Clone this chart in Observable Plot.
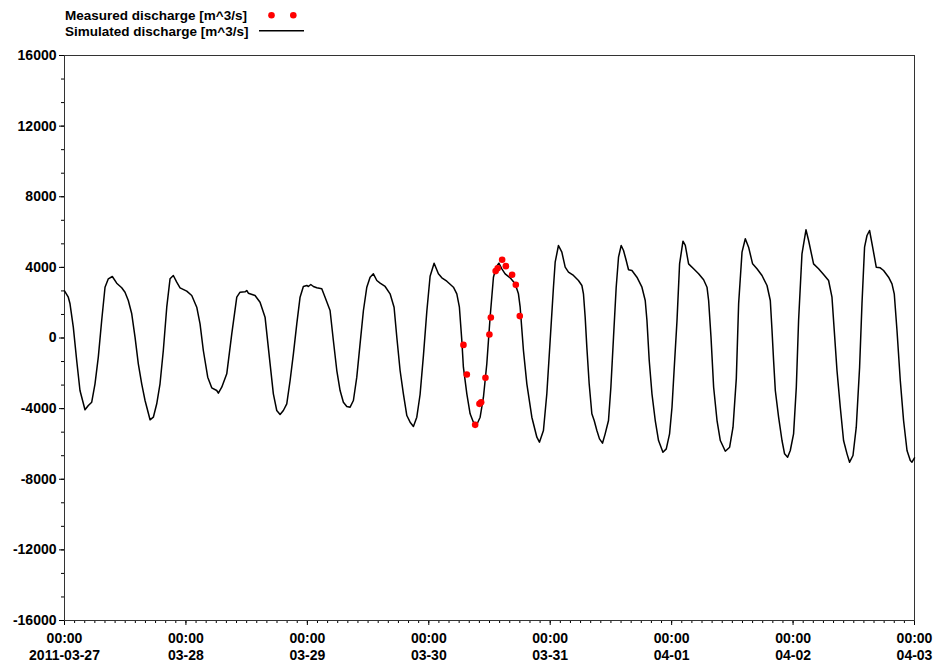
<!DOCTYPE html>
<html><head><meta charset="utf-8">
<script src="https://cdn.jsdelivr.net/npm/d3@7"></script>
<script src="https://cdn.jsdelivr.net/npm/@observablehq/plot@0.6"></script>
<style>
body{margin:0;background:#fff;font-family:"Liberation Sans",Arial,sans-serif;}
#wrap{position:relative;width:937px;height:666px;}
#legend{position:absolute;left:0;top:0;}
</style></head><body>
<div id="wrap"><div id="chart"></div><svg id="legend" width="340" height="44"></svg></div>
<script>
// ---- data ----
const startTime = "2011-03-27T00:00:00Z";
const endTime = "2011-04-03T00:00:00Z";
// simulated discharge: hours since start, value [m^3/s]
const simHours = [
 0, 0.75, 1.09, 1.74, 2.41, 3.06, 4.05, 4.71, 5.38, 6.03, 6.68, 7.35, 8.01, 8.66, 9.45,
 10.32, 11.31, 11.96, 12.61, 13.29, 13.94, 14.59, 15.26, 15.92, 16.91, 17.56, 18.23, 18.88, 19.53,
 20.21, 20.86, 21.51, 22.18, 22.84, 24.16, 25.15, 26.14, 26.79, 27.44, 28.31, 29.10, 30.09, 30.41,
 31.08, 32.07, 33.06, 34.05, 34.70, 35.69, 36.02, 36.34, 37.66, 38.65, 39.64, 40.63, 41.28, 41.95,
 42.61, 43.26, 43.93, 44.59, 45.24, 45.91, 46.56, 47.21, 47.89, 48.20, 48.68, 49.19, 49.86, 50.85,
 51.50, 52.49, 53.14, 53.82, 54.47, 55.12, 55.79, 56.45, 57.10, 57.77, 58.42, 59.08, 59.75, 60.40,
 61.05, 61.73, 62.38, 63.37, 64.35, 65.14, 65.68, 66.33, 66.98, 67.66, 68.31, 68.96, 69.63, 70.28,
 70.94, 71.61, 72.26, 73.05, 73.90, 74.58, 75.56, 76.87, 77.54, 78.05, 78.53, 78.84, 79.52, 80.17,
 80.82, 81.61, 82.15, 82.80, 83.47, 84.12, 84.78, 85.31, 85.85, 86.44, 87.09, 88.08, 89.07, 89.72,
 90.06, 90.71, 91.38, 92.37, 93.36, 93.87, 94.66, 95.33, 95.99, 96.64, 96.98, 97.63, 98.30, 98.96,
 99.61, 100.60, 101.58, 102.26, 102.57, 102.91, 103.24, 103.70, 104.23, 104.69, 105.22, 105.74, 106.33,
 106.86, 107.52, 107.99, 108.51, 109.04, 109.50, 110.03, 110.49, 111.02, 111.48, 112.15, 113.14, 114.13,
 114.78, 115.12, 115.57, 116.11, 116.76, 117.41, 118.28, 118.94, 119.59, 120.07, 120.52, 121.06, 121.57,
 122.24, 122.70, 123.35, 124.34, 125.33, 126.32, 126.99, 127.31, 127.78, 128.30, 128.97, 129.62, 130.61,
 131.46, 132.13, 132.78, 133.24, 133.91, 134.56, 135.21, 136.00, 136.87, 137.86, 138.85, 139.50, 139.84,
 140.15, 140.49, 141.14, 141.81, 142.32, 142.92, 143.45, 144.10, 144.64, 145.09, 145.76, 146.55, 147.07,
 148.05, 149.04, 150.03, 151.02, 151.69, 152.14, 152.68, 153.33, 153.98, 154.66, 155.17, 155.84, 156.49,
 157.15, 157.62, 158.13, 158.61, 159.12, 159.79, 160.44, 161.23, 161.89, 162.88, 163.55, 164.00, 164.54,
 165.19, 165.84, 166.52, 167.17, 167.50, 168
];
const simValues = [
 2670, 2310, 1937, 612, -1274, -2974, -4067, -3823, -3636, -2594, -1087, 991, 2877, 3353, 3483,
 3104, 2843, 2594, 2124, 1371, 45, -1461, -2594, -3540, -4633, -4486, -3727, -2594, -708,
 1744, 3353, 3540, 3160, 2843, 2651, 2407, 1744, 804, -708, -2220, -2821, -2974, -3126,
 -2787, -2028, 238, 2311, 2594, 2617, 2690, 2537, 2407, 2028, 1178, -1450, -3160, -4106,
 -4333, -4106, -3727, -2407, -895, 804, 2311, 2917, 2974, 2917, 3030, 2917, 2843, 2787,
 2311, 1558, -142, -1841, -2974, -3636, -3880, -3919, -3540, -2220, -329, 1558, 2877, 3444,
 3636, 3257, 3104, 2917, 2503, 1744, 45, -1841, -3160, -4390, -4769, -5013, -4486, -3200,
 -1000, 1500, 3500, 4237, 3636, 3408, 3217, 2877, 2503, 1744, -142, -1654, -3160, -4293,
 -4769, -4826, -4486, -3353, -1461, 1178, 3444, 4010, 4237, 3919, 3636, 3408, 3070, 2503,
 1744, -708, -2594, -4486, -5619, -5900, -5240, -3160, -142, 2877, 4293, 5240, 4860, 4010,
 3727, 3540, 3257, 2974, 2503, 1178, -521, -2594, -4293, -4673, -5240, -5712, -5958,
 -5429, -4673, -2787, 45, 2877, 4577, 5240, 4956, 4390, 3863, 3823, 3444, 2877,
 2124, 991, -1274, -3160, -4673, -5806, -6468, -6278, -5429, -3919, -1654, 991, 4200,
 5483, 5240, 4200, 3919, 3636, 3296, 2877, 2124, 45, -2787, -4673, -5806, -6411,
 -6185, -5052, -2300, 1937, 4860, 5619, 5143, 4200, 3919, 3540, 2974, 2124, 425,
 -1274, -2974, -4486, -5806, -6562, -6751, -6372, -5429, -2787, 991, 4769, 6128, 5522,
 4200, 3919, 3596, 3257, 2311, 425, -1841, -3919, -5806, -6562, -7035, -6655, -5052,
 -1654, 1937, 5143, 5806, 6089, 5052, 4010, 3976, 3823, 3444, 3070, 2503, 425,
 -2407, -4673, -6372, -6938, -7035, -6785
];
const measuredTimes = [
 "2011-03-30T06:51Z", "2011-03-30T07:31Z", "2011-03-30T09:10Z", "2011-03-30T10:01Z",
 "2011-03-30T10:21Z", "2011-03-30T11:12Z", "2011-03-30T11:59Z", "2011-03-30T12:16Z",
 "2011-03-30T13:13Z", "2011-03-30T13:37Z", "2011-03-30T14:30Z", "2011-03-30T15:14Z",
 "2011-03-30T16:28Z", "2011-03-30T17:12Z", "2011-03-30T17:59Z"
];
const measuredDischarge = [
 -390, -2070, -4920, -3730, -3640, -2250, 200, 1160, 3790, 3950, 4430, 4070, 3580, 3010, 1240
];
const yTicks = [-16000, -12000, -8000, -4000, 0, 4000, 8000, 12000, 16000];
const dayLabels = ["2011-03-27", "03-28", "03-29", "03-30", "03-31", "04-01", "04-02", "04-03"];
const seriesNames = ["Measured discharge [m^3/s]", "Simulated discharge [m^3/s]"];

// ---- tables ----
const t0 = new Date(startTime), t1 = new Date(endTime);
const sim = simHours.map((h, i) => ({time: new Date(+t0 + h * 3600e3), value: simValues[i]}));
const meas = measuredTimes.map((t, i) => ({time: new Date(t), value: measuredDischarge[i]}));
const dayTicks = d3.utcDay.range(t0, d3.utcDay.offset(t1, 1));
const hourTicks = d3.utcHour.every(2).range(t0, d3.utcHour.offset(t1, 1));
const yMinor = d3.range(0, 25).map(k => -16000 + k * 4000 / 3);

const chart = Plot.plot({
  width: 937,
  height: 666,
  marginLeft: 64,
  marginRight: 23,
  marginTop: 55,
  marginBottom: 46,
  style: {fontFamily: '"Liberation Sans", Arial, sans-serif', fontSize: "14px", fontWeight: "bold", color: "#000", background: "#fff"},
  x: {type: "utc", domain: [t0, t1]},
  y: {domain: [-16000, 16000]},
  marks: [
    Plot.axisY({ticks: yMinor, tickSize: 3, text: null, label: null}),
    Plot.axisY({ticks: yTicks, tickSize: 5, tickPadding: 3, tickFormat: d => String(d), label: null, fontWeight: "bold"}),
    Plot.axisX({ticks: hourTicks, tickSize: 3, text: null, label: null}),
    Plot.axisX({ticks: dayTicks, tickSize: 5, tickPadding: 6, lineHeight: 1.2, label: null, fontWeight: "bold",
      tickFormat: d => "00:00\n" + dayLabels[d3.utcDay.count(t0, d)]}),
    Plot.frame({stroke: "#333"}),
    Plot.line(sim, {x: "time", y: "value", stroke: "black", strokeWidth: 1.5}),
    Plot.dot(meas, {x: "time", y: "value", r: 3.3, fill: "#ff0000", stroke: "none"})
  ]
});
document.getElementById("chart").appendChild(chart);

// ---- legend ----
const lg = d3.select("#legend");
lg.append("text").attr("x", 65).attr("y", 20).text(seriesNames[0]);
lg.append("text").attr("x", 65).attr("y", 35.5).text(seriesNames[1]);
lg.selectAll("text").attr("font-family", '"Liberation Sans", Arial, sans-serif').attr("font-size", 13.5).attr("font-weight", "bold");
lg.append("circle").attr("cx", 271.5).attr("cy", 15.3).attr("r", 3.3).attr("fill", "#ff0000");
lg.append("circle").attr("cx", 293.3).attr("cy", 15.3).attr("r", 3.3).attr("fill", "#ff0000");
lg.append("line").attr("x1", 259).attr("x2", 304).attr("y1", 30.8).attr("y2", 30.8).attr("stroke", "black").attr("stroke-width", 1.5);
</script>
</body></html>
